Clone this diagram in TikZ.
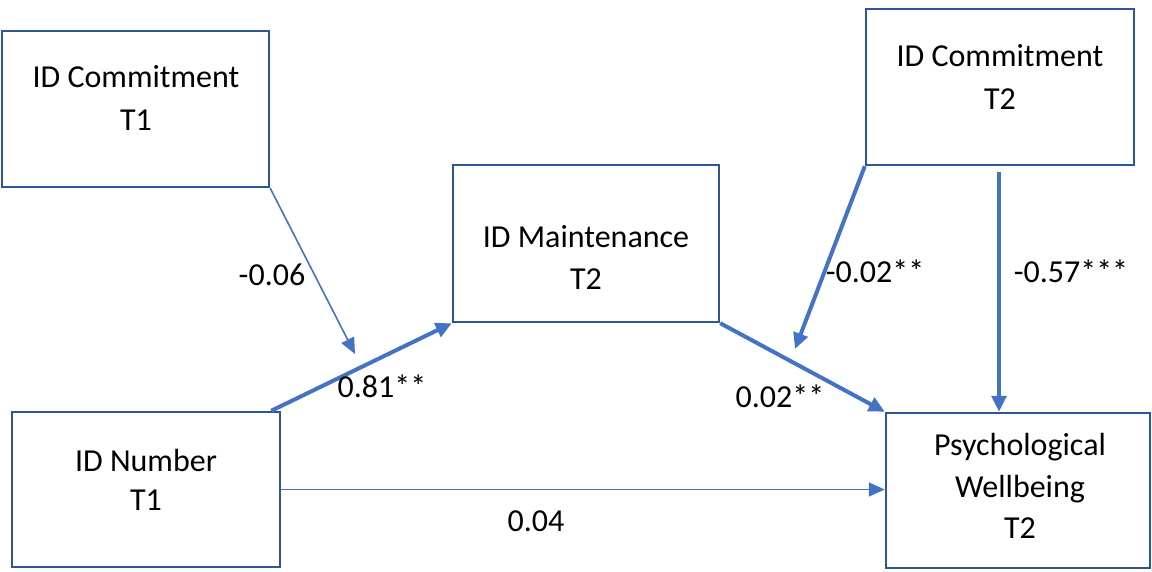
\documentclass[tikz,border=0pt]{standalone}
\usepackage{fontspec}
\setmainfont{Carlito}
\usetikzlibrary{arrows.meta}
\definecolor{boxblue}{HTML}{2F5597}
\definecolor{arrblue}{HTML}{4472C4}
\begin{document}
\begin{tikzpicture}[x=0.75pt,y=-0.75pt,
  box/.style={draw=boxblue,line width=1.8pt,rectangle,inner sep=0pt},
  txt/.style={anchor=base,inner sep=0pt,font=\fontsize{24}{31.5}\selectfont},
  thinarr/.style={draw=arrblue,line width=1.2pt,-{Triangle[length=12pt,width=10.5pt]}},
  thickarr/.style={draw=arrblue,line width=3pt,-{Triangle[length=12pt,width=11pt]}}]
\useasboundingbox (0,0) rectangle (1152,571);
% boxes
\node[box,minimum width=267*0.75pt,minimum height=156*0.75pt] (c1) at (135.5,109) {};
\node[box,minimum width=266*0.75pt,minimum height=157*0.75pt] (main) at (586,243.5) {};
\node[box,minimum width=268*0.75pt,minimum height=156*0.75pt] (c2) at (1000,87) {};
\node[box,minimum width=268*0.75pt,minimum height=155*0.75pt] (num) at (146,489.5) {};
\node[box,minimum width=264*0.75pt,minimum height=155*0.75pt] (psy) at (1018,490.5) {};
% box texts
\node[txt] (c1a) at (136,87) {ID Commitment};
\node[txt] (c1b) at (136,130) {T1};
\node[txt] (ma) at (586,247) {ID Maintenance};
\node[txt] (mb) at (586,289) {T2};
\node[txt] (c2a) at (1000,66) {ID Commitment};
\node[txt] (c2b) at (1000,109) {T2};
\node[txt] (na) at (146,471) {ID Number};
\node[txt] (nb) at (146,510) {T1};
\node[txt] (pa) at (1020,455) {Psychological};
\node[txt] (pb) at (1020,497) {Wellbeing};
\node[txt] (pc) at (1020,538) {T2};
% free arrow ends
\coordinate (m1) at (355,354);
\coordinate (m2) at (795,349);
% connectors
\draw[thinarr] (c1.south east) -- (m1);
\draw[thickarr] ([xshift=-7.5pt]num.north east) -- (main.south west);
\draw[thickarr] (main.south east) -- (psy.north west);
\draw[thickarr] (c2.south west) -- (m2);
\draw[thickarr] ([yshift=-4pt]c2.south -| 999,0) -- (999,0 |- psy.north);
\draw[thinarr] (num.east) -- (num.east -| psy.west);
% labels
\node[txt] (l1) at (272,285) {-0.06};
\node[txt] (l2) at (382,397) {0.81**};
\node[txt] (l3) at (780,407) {0.02**};
\node[txt] (l4) at (875,282) {-0.02**};
\node[txt] (l5) at (1071,282) {-0.57***};
\node[txt] (l6) at (536,531) {0.04};
\end{tikzpicture}
\end{document}
